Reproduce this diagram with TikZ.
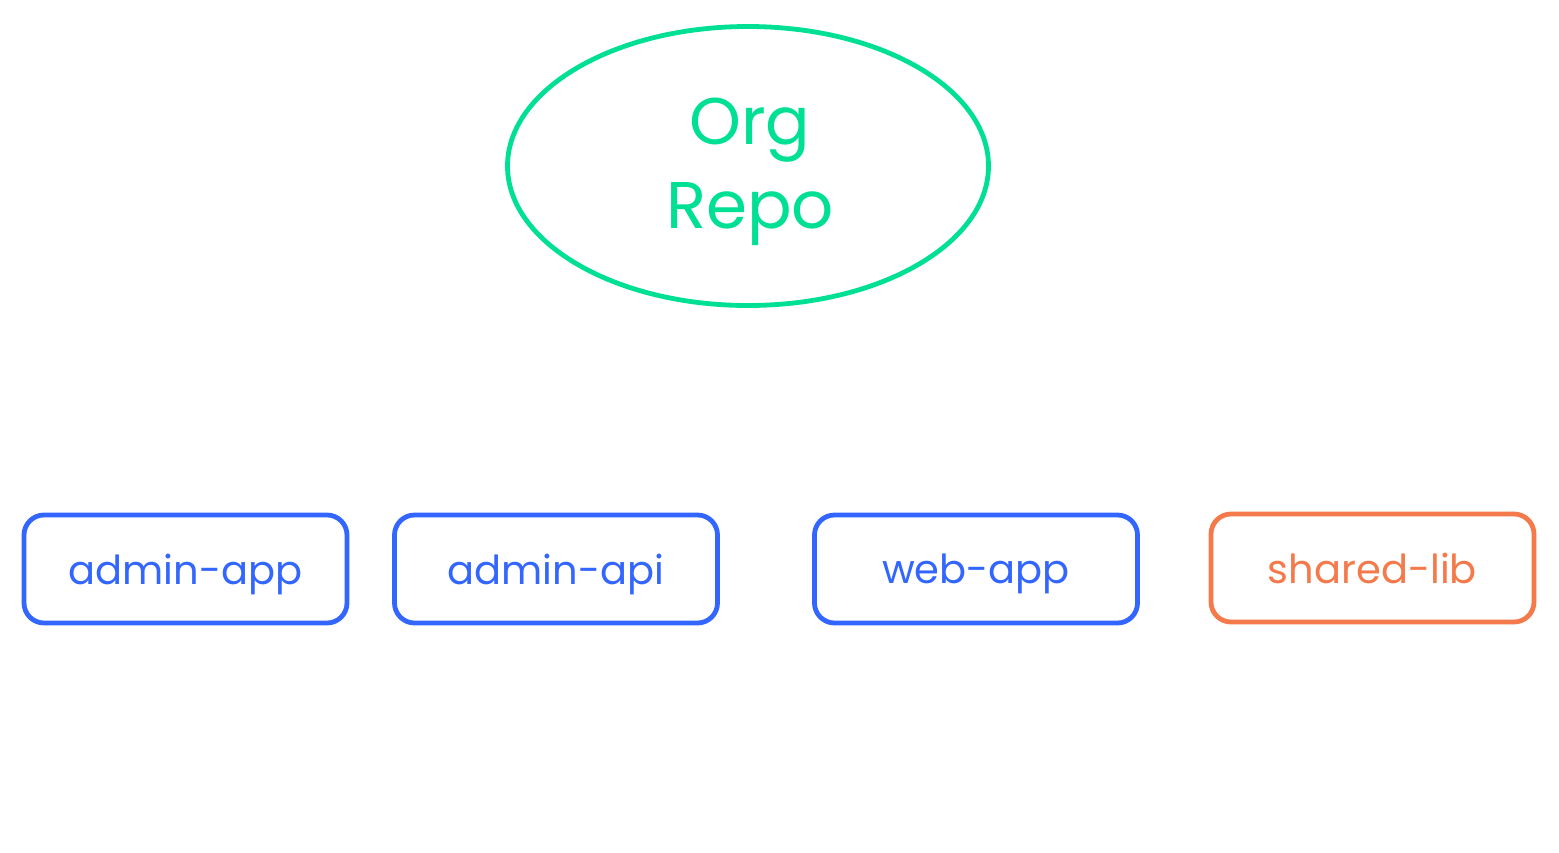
\documentclass[tikz,border=0pt]{standalone}
\usepackage{fontspec}
\setmainfont{Poppins}
\usetikzlibrary{shapes.geometric}
\definecolor{repogreen}{RGB}{0,224,148}
\definecolor{appblue}{RGB}{51,102,255}
\definecolor{liborange}{RGB}{244,122,75}

\begin{document}
\begin{tikzpicture}[x=0.5pt, y=-0.5pt,
		pkg/.style = {draw, rounded corners = 10pt, line width = 2.4pt, minimum width = 161.5pt, minimum height = 54pt, text depth = 0pt, font = \fontsize{20}{24}\selectfont}]
		\useasboundingbox (0,0) rectangle (1559,852);
		\node (repo) at (748,166) [draw = repogreen, ellipse, line width = 2.4pt, inner sep = 0pt, minimum width = 240.5pt, minimum height = 139.5pt] {};
		\node (repotext) at (750,172) [text = repogreen, align = center, font = \fontsize{33}{42}\selectfont] {Org\\Repo};
		\node (adminapp) at (185.5,569) [pkg, draw = appblue, text = appblue] {admin-app};
		\node (adminapi) at (556,569) [pkg, draw = appblue, text = appblue] {admin-api};
		\node (webapp) at (976,569) [pkg, draw = appblue, text = appblue] {web-app};
		\node (sharedlib) at (1372.5,568) [pkg, draw = liborange, text = liborange] {shared-lib};
	\end{tikzpicture}
\end{document}
